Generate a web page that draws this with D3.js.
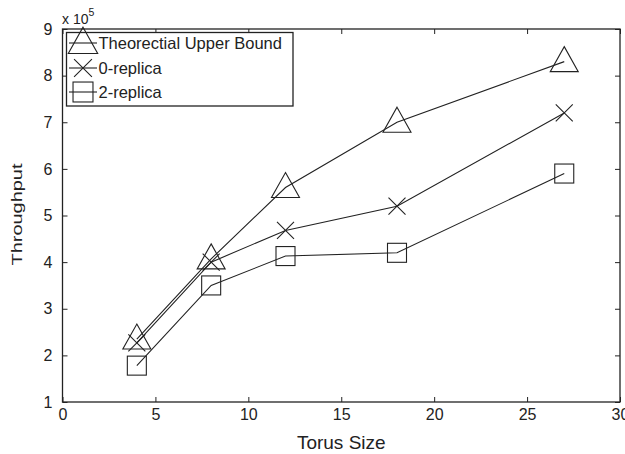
<!DOCTYPE html>
<html>
<head>
<meta charset="utf-8">
<script src="https://cdn.jsdelivr.net/npm/d3@7/dist/d3.min.js"></script>
<style>
  html, body { margin: 0; padding: 0; background: #fff; }
  svg { display: block; font-family: "Liberation Sans", Arial, Helvetica, sans-serif; }
</style>
</head>
<body>
<svg id="chart" width="625" height="454"></svg>
<script>
// Torus sizes on the x axis
const torusSizes = [4, 8, 12, 18, 27];
// Throughput, in units of 1e5
const theoretical = [2.35, 4.07, 5.6, 7.0, 8.3];
const replica0 = [2.27, 4.0, 4.68, 5.2, 7.2];
const replica2 = [1.78, 3.5, 4.13, 4.2, 5.9];

const seriesNames = ["Theorectial Upper Bound", "0-replica", "2-replica"];
const seriesShapes = ["triangle", "cross", "square"];
const xTicks = [0, 5, 10, 15, 20, 25, 30];
const yTicks = [1, 2, 3, 4, 5, 6, 7, 8, 9];

const svg = d3.select("#chart");
const ink = "#222";
const font = "Liberation Sans, Arial, sans-serif";
const margin = { left: 62.5, right: 5, top: 29, bottom: 52 };
const W = 625, H = 454;

const x = d3.scaleLinear().domain([0, 30]).range([margin.left, W - margin.right]);
const y = d3.scaleLinear().domain([1, 9]).range([H - margin.bottom, margin.top]);

// Inward ticks on all four sides of the box
const tickLen = 5;
svg.append("g").attr("transform", `translate(0,${y(1)})`)
  .call(d3.axisBottom(x).tickValues(xTicks).tickSize(-tickLen).tickPadding(7).tickFormat(d3.format("d")))
  .call(g => g.select(".domain").remove());
svg.append("g").attr("transform", `translate(0,${y(9)})`)
  .call(d3.axisTop(x).tickValues(xTicks).tickSize(-tickLen).tickFormat(""))
  .call(g => g.select(".domain").remove());
svg.append("g").attr("transform", `translate(${x(0)},0)`)
  .call(d3.axisLeft(y).tickValues(yTicks).tickSize(-tickLen).tickPadding(10).tickFormat(d3.format("d")))
  .call(g => g.select(".domain").remove());
svg.append("g").attr("transform", `translate(${x(30)},0)`)
  .call(d3.axisRight(y).tickValues(yTicks).tickSize(-tickLen).tickFormat(""))
  .call(g => g.select(".domain").remove());

svg.selectAll(".tick line").attr("stroke", ink).attr("stroke-width", 1);
svg.selectAll(".tick text").attr("fill", ink).attr("font-size", 16).attr("font-family", font);

// Plot frame
svg.append("rect")
  .attr("x", x(0)).attr("y", y(9))
  .attr("width", x(30) - x(0)).attr("height", y(1) - y(9))
  .attr("fill", "none").attr("stroke", ink).attr("stroke-width", 1.3);

// Marker drawing
function marker(g, shape, cx, cy, big) {
  const s = big ? 1.05 : 1;
  if (shape === "triangle") {
    const hw = 14 * s, up = 15 * s, down = 10 * s;
    g.append("path")
      .attr("d", `M${cx},${cy - up}L${cx + hw},${cy + down}L${cx - hw},${cy + down}Z`)
      .attr("fill", "none").attr("stroke", ink).attr("stroke-width", 1.1);
  } else if (shape === "cross") {
    const r = 8.5 * s;
    g.append("path")
      .attr("d", `M${cx - r},${cy - r}L${cx + r},${cy + r}M${cx - r},${cy + r}L${cx + r},${cy - r}`)
      .attr("fill", "none").attr("stroke", ink).attr("stroke-width", 1.1);
  } else {
    const r = 9.5 * s;
    g.append("rect")
      .attr("x", cx - r).attr("y", cy - r).attr("width", 2 * r).attr("height", 2 * r)
      .attr("fill", "none").attr("stroke", ink).attr("stroke-width", 1.1);
  }
}

const allSeries = [theoretical, replica0, replica2];
const line = d3.line().x(d => x(d[0])).y(d => y(d[1]));

allSeries.forEach((vals, i) => {
  const pts = torusSizes.map((t, k) => [t, vals[k]]);
  const g = svg.append("g");
  g.append("path").attr("d", line(pts))
    .attr("fill", "none").attr("stroke", ink).attr("stroke-width", 1.1);
  pts.forEach(p => marker(g, seriesShapes[i], x(p[0]), y(p[1]), false));
});

// Legend
const lg = svg.append("g");
lg.append("rect").attr("x", 66.5).attr("y", 32.5).attr("width", 226.5).attr("height", 73.5)
  .attr("fill", "#fff").attr("stroke", ink).attr("stroke-width", 1.3);
const rowY = [43, 68, 92];
seriesNames.forEach((name, i) => {
  const cy = rowY[i];
  lg.append("line").attr("x1", 69).attr("x2", 97).attr("y1", cy).attr("y2", cy)
    .attr("stroke", ink).attr("stroke-width", 1.1);
  marker(lg, seriesShapes[i], 83, cy, true);
  lg.append("text").attr("x", 98.5).attr("y", cy + 6)
    .attr("font-size", 16.5).attr("font-family", font).attr("fill", ink).text(name);
});

// Exponent note above the y axis
const ex = svg.append("text").attr("x", 62).attr("y", 24).attr("font-size", 14)
  .attr("font-family", font).attr("fill", ink);
ex.append("tspan").text("x 10");
ex.append("tspan").attr("dy", -8).attr("font-size", 10.5).text("5");

// Axis titles
svg.append("text").attr("x", x(15)).attr("y", 449).attr("text-anchor", "middle")
  .attr("font-size", 19).attr("font-family", font).attr("fill", ink).text("Torus Size");
svg.append("text").attr("transform", `translate(22,${y(5) - 1}) rotate(-90)`)
  .attr("text-anchor", "middle").attr("font-size", 15).attr("font-family", font)
  .attr("textLength", 102).attr("lengthAdjust", "spacingAndGlyphs")
  .attr("fill", ink).text("Throughput");
</script>
</body>
</html>
